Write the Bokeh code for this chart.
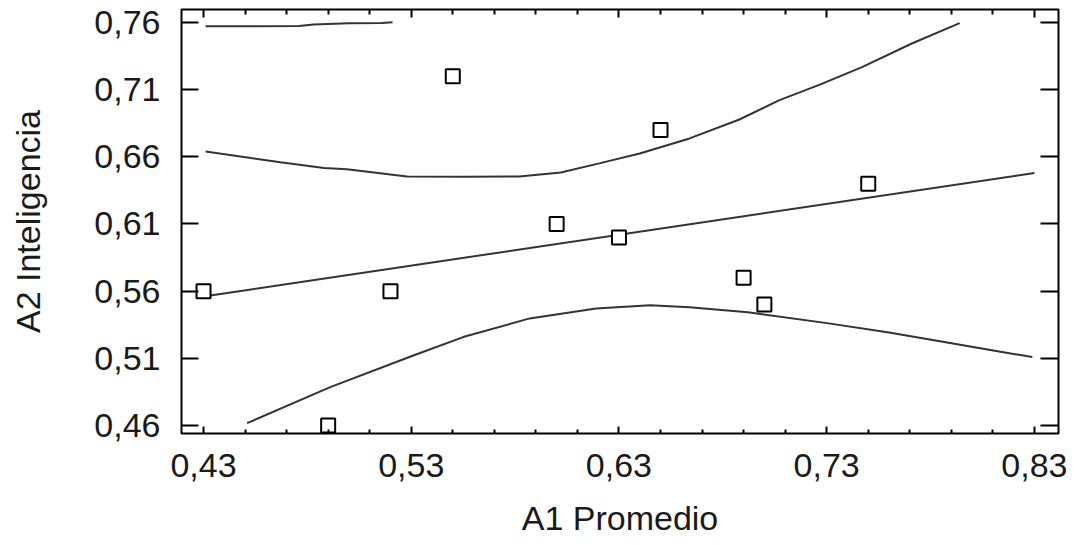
from bokeh.plotting import figure
from bokeh.models import Range1d, FixedTicker, LinearAxis
from bokeh.embed import file_html
from bokeh.resources import INLINE

# ---- data ----
pts_x = [0.43, 0.49, 0.52, 0.55, 0.60, 0.63, 0.65, 0.69, 0.70, 0.75]
pts_y = [0.56, 0.46, 0.56, 0.72, 0.61, 0.60, 0.68, 0.57, 0.55, 0.64]

fit_x = [0.43, 0.83]
fit_y = [0.556, 0.648]

upper_x = [0.431, 0.467, 0.488, 0.499, 0.528, 0.556, 0.582, 0.602, 0.621,
           0.640, 0.664, 0.688, 0.707, 0.727, 0.747, 0.771, 0.794]
upper_y = [0.664, 0.656, 0.6516, 0.6508, 0.6454, 0.6452, 0.6454, 0.6484, 0.6553,
           0.6625, 0.6737, 0.6878, 0.702, 0.714, 0.7268, 0.7444, 0.7596]

top_x = [0.431, 0.476, 0.483, 0.500, 0.516, 0.521]
top_y = [0.7572, 0.7574, 0.7585, 0.7595, 0.7597, 0.7602]

lower_x = [0.451, 0.491, 0.531, 0.555, 0.587, 0.619, 0.645, 0.664, 0.692,
           0.731, 0.760, 0.788, 0.813, 0.829]
lower_y = [0.4617, 0.4885, 0.5121, 0.5258, 0.5397, 0.5471, 0.5494, 0.548, 0.5442,
           0.5360, 0.5292, 0.5218, 0.5151, 0.5109]

x_ticks = [0.43, 0.53, 0.63, 0.73, 0.83]
x_labels = ["0,43", "0,53", "0,63", "0,73", "0,83"]
x_minor = [0.45, 0.47, 0.49, 0.51, 0.55, 0.57, 0.59, 0.61, 0.65, 0.67, 0.69,
           0.71, 0.75, 0.77, 0.79, 0.81]
y_ticks = [0.46, 0.51, 0.56, 0.61, 0.66, 0.71, 0.76]
y_labels = ["0,46", "0,51", "0,56", "0,61", "0,66", "0,71", "0,76"]

x_title = "A1 Promedio"
y_title = "A2 Inteligencia"

FONT = "Liberation Sans"
FS = "34px"
CURVE = "#333333"

p = figure(width=1068, height=545, output_backend="svg", toolbar_location=None,
           x_range=Range1d(0.4194, 0.8416), y_range=Range1d(0.454, 0.7697),
           min_border_left=181, min_border_right=10, min_border_top=9,
           min_border_bottom=112)
p.grid.visible = False
p.background_fill_color = "white"
p.border_fill_color = "white"
p.outline_line_color = "black"
p.outline_line_width = 2

xt = FixedTicker(ticks=x_ticks, minor_ticks=x_minor)
yt = FixedTicker(ticks=y_ticks, minor_ticks=[])

xa = p.xaxis[0]
xa.ticker = xt
xa.major_label_overrides = dict(zip(x_ticks, x_labels))
ya = p.yaxis[0]
ya.ticker = yt
ya.major_label_overrides = dict(zip(y_ticks, y_labels))

xa.axis_label = x_title
ya.axis_label = y_title

for ax in (xa, ya):
    ax.axis_line_color = None
    ax.major_tick_out = 0
    ax.minor_tick_out = 0
    ax.major_tick_line_color = "black"
    ax.major_tick_line_width = 2
    ax.minor_tick_line_color = "black"
    ax.minor_tick_line_width = 2
    ax.major_label_text_font = FONT
    ax.major_label_text_font_size = FS
    ax.major_label_text_color = "#1a1a1a"
    ax.axis_label_text_font = FONT
    ax.axis_label_text_font_size = FS
    ax.axis_label_text_font_style = "normal"
    ax.axis_label_text_color = "#1a1a1a"

xa.major_tick_in = 7
xa.minor_tick_in = 4
xa.major_label_standoff = 20
xa.axis_label_standoff = 19
ya.major_tick_in = 17
ya.minor_tick_in = 0
ya.major_label_standoff = 21
ya.axis_label_standoff = 44

ra = LinearAxis(ticker=yt, axis_line_color=None, major_tick_out=0, major_tick_in=18,
                minor_tick_out=0, minor_tick_in=0, major_tick_line_width=2,
                major_label_text_font_size="0px", major_label_standoff=0)
ra.major_label_overrides = {t: "" for t in y_ticks}
ta = LinearAxis(ticker=xt, axis_line_color=None, major_tick_out=0, major_tick_in=8,
                minor_tick_out=0, minor_tick_in=5, major_tick_line_width=2,
                minor_tick_line_width=2,
                major_label_text_font_size="0px", major_label_standoff=0)
ta.major_label_overrides = {t: "" for t in x_ticks}
p.add_layout(ra, "right")
p.add_layout(ta, "above")

p.line(fit_x, fit_y, line_color=CURVE, line_width=2)
p.line(upper_x, upper_y, line_color=CURVE, line_width=2)
p.line(lower_x, lower_y, line_color=CURVE, line_width=2)
p.line(top_x, top_y, line_color=CURVE, line_width=2)
p.scatter(pts_x, pts_y, marker="square", size=14, fill_color="white",
          line_color="black", line_width=2)

open("out.html", "w").write(file_html(p, INLINE))
